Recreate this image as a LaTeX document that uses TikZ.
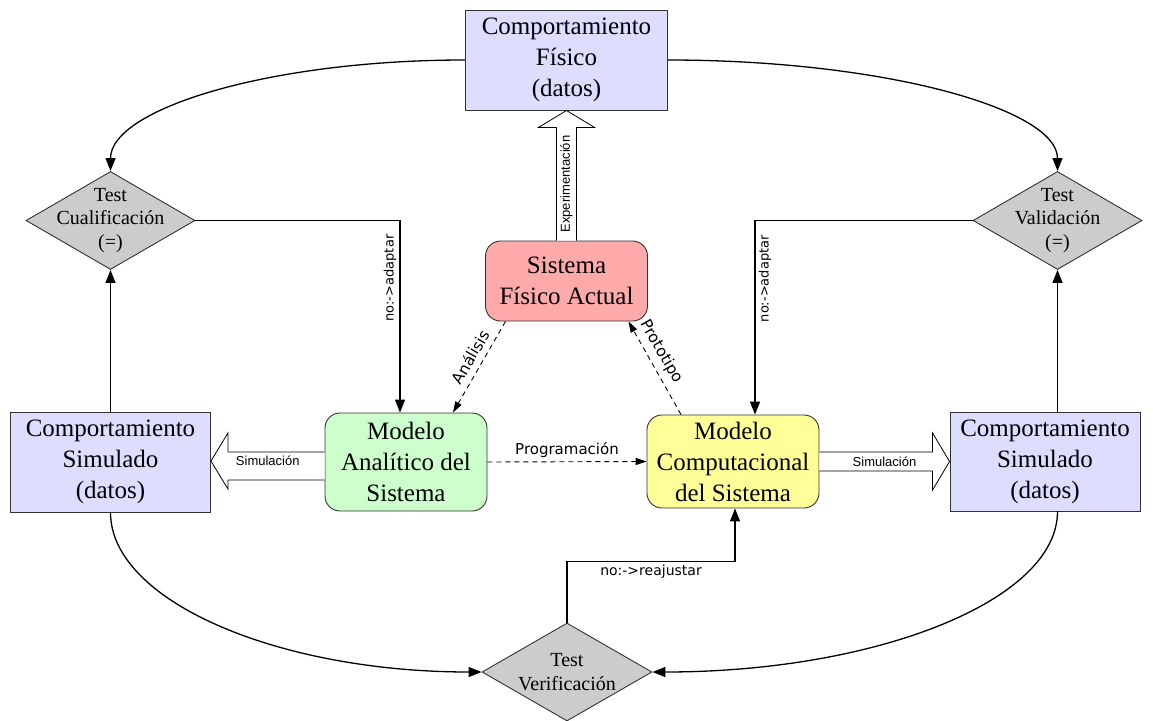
\documentclass[tikz,border=0pt]{standalone}
\usepackage{fontspec}
\setmainfont{Liberation Serif}
\newfontfamily\arialfont{Liberation Sans}
\newfontfamily\notefont{DejaVu Sans}
\usetikzlibrary{shapes.geometric,arrows.meta,calc}

\definecolor{datafill}{RGB}{221,221,255}
\definecolor{realfill}{RGB}{255,170,170}
\definecolor{anafill}{RGB}{204,255,204}
\definecolor{compfill}{RGB}{255,255,153}
\definecolor{testfill}{RGB}{204,204,204}
\definecolor{edgegray}{RGB}{50,50,50}

\begin{document}
\begin{tikzpicture}[x=1pt,y=-1pt,
  box/.style={draw=edgegray, line width=0.9pt, inner sep=0pt, align=center,
              font=\fontsize{25}{31}\selectfont},
  model/.style={box, rounded corners=15pt},
  testnode/.style={diamond, draw=edgegray, line width=0.9pt, fill=testfill,
              inner sep=0pt, minimum width=169pt, minimum height=98pt},
  testtext/.style={align=center, font=\fontsize{20}{23.5}\selectfont},
  arr/.style={line width=1.3pt, -{Triangle[length=13pt,width=10pt]}},
  dasharr/.style={line width=0.9pt, dash pattern=on 5pt off 4pt,
              -{Triangle[length=11pt,width=7pt]}},
  hollow/.style={draw=black, line width=0.8pt, fill=white, line join=miter},
  simlbl/.style={font=\arialfont\fontsize{13}{13}\selectfont, inner sep=0pt},
  notelbl/.style={font=\notefont\fontsize{#1}{#1}\selectfont, inner sep=3pt},
]
\useasboundingbox (0,0) rectangle (1153,720);

% --- nodes -------------------------------------------------------------
\node[box, fill=datafill, minimum width=202pt, minimum height=100pt]
  (fis) at (566.5,60) {Comportamiento\\Físico\\(datos)};
\node[model, fill=realfill, minimum width=162pt, minimum height=80pt]
  (real) at (566.5,281) {Sistema\\Físico Actual};
\node[model, fill=anafill, minimum width=162pt, minimum height=98pt]
  (ana) at (406,462) {Modelo\\Analítico del\\Sistema};
\node[model, fill=compfill, minimum width=172pt, minimum height=93pt]
  (comp) at (733,461.5) {Modelo\\Computacional\\del Sistema};
\node[box, fill=datafill, minimum width=200pt, minimum height=100pt]
  (lsim) at (110.5,462) {Comportamiento\\Simulado\\(datos)};
\node[box, fill=datafill, minimum width=190pt, minimum height=99pt]
  (rsim) at (1045,461.5) {Comportamiento\\Simulado\\(datos)};

\node[testnode, label={[testtext]center:Test\\Cualificación\\(=)}]
  (q1) at (110.5,220.5) {};
\node[testnode, label={[testtext]center:Test\\Validación\\(=)}]
  (q2) at (1057.5,220.5) {};
\node[testnode, minimum width=170pt, label={[testtext]center:Test\\Verificación}]
  (q3) at (567,672) {};

% --- wide hollow arrows ------------------------------------------------
\draw[hollow] ($(real.north)+(-10,0)$) -- ($(fis.south)+(-10,17)$)
  -- ($(fis.south)+(-28,17)$) -- (fis.south) -- ($(fis.south)+(28,17)$)
  -- ($(fis.south)+(10,17)$) -- ($(real.north)+(10,0)$);
\node[simlbl, rotate=90] (expl) at ($(fis.south)!0.5!(real.north)+(0,8.5)$)
  {Experimentación};

\draw[hollow] ($(ana.west)+(0,-10)$) -- ($(lsim.east)+(17,-10)$)
  -- ($(lsim.east)+(17,-29)$) -- ($(lsim.east)+(0,-1)$) -- ($(lsim.east)+(17,27)$)
  -- ($(lsim.east)+(17,18)$) -- ($(ana.west)+(0,18)$);
\node[simlbl] (siml) at ($(lsim.east)!0.5!(ana.west)+(0,-1)$) {Simulación};

\draw[hollow] ($(comp.east)+(0,-9.5)$) -- ($(rsim.west)+(-17,-9.5)$)
  -- ($(rsim.west)+(-17,-28.5)$) -- (rsim.west) -- ($(rsim.west)+(-17,28.5)$)
  -- ($(rsim.west)+(-17,9.5)$) -- ($(comp.east)+(0,9.5)$);
\node[simlbl] (simr) at ($(comp.east)!0.5!(rsim.west)$) {Simulación};

% --- dashed relations between the models --------------------------------
\draw[dasharr] ($(real.south)+(-61,0)$) -- node[pos=0.46, rotate=60, anchor=south,
  notelbl=15.5, inner sep=6pt] {Análisis} ($(ana.north)+(47,0)$);
\draw[dasharr] ($(comp.north)+(-52,0)$) -- node[pos=0.6, rotate=-60, anchor=south,
  notelbl=15.5, inner sep=6pt] {Prototipo} ($(real.south)+(62,0)$);
\draw[dasharr] (ana.east) -- node[above, notelbl=15, inner sep=4pt]
  {Programación} (comp.east -| comp.west);

% --- test feedback lines -------------------------------------------------
\draw[arr] (fis.west) .. controls +(-196,0) and +(0,-62) .. (q1.north);
\draw[arr] (fis.east) .. controls +(216,0) and +(0,-62) .. (q2.north);
\draw[arr] (lsim.north) -- (q1.south);
\draw[arr] (q2.south |- rsim.north) -- (q2.south);
\draw[arr] (lsim.south) .. controls +(0,88) and +(-205,0) .. (q3.west);
\draw[arr] (q2.south |- rsim.south) .. controls +(0,89) and +(224,0) .. (q3.east);

\draw[arr] (q1.east) -| node[pos=0.65, rotate=90, anchor=south, notelbl=13]
  {no:->adaptar} ($(ana.north)+(-6,0)$);
\draw[arr] (q2.west) -| node[pos=0.65, rotate=90, anchor=north, notelbl=13]
  {no:->adaptar} ($(comp.north)+(22,0)$);
\draw[arr] (q3.north) |- node[pos=0.75, below, notelbl=14]
  {no:->reajustar} ($(comp.south)+(2,53)$) -- ($(comp.south)+(2,0)$);
\end{tikzpicture}
\end{document}
